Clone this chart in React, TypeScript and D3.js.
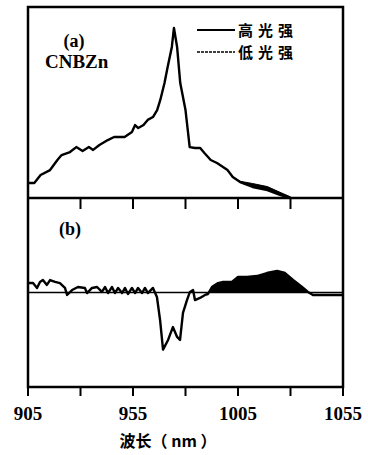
import * as d3 from "d3"

// panel (a): normalised spectra, high / low excitation
const waveA = [905, 908, 911, 915.5, 919, 921, 925, 928, 931, 934, 936, 939, 943, 946, 951, 954.5, 956, 957.5, 960, 962, 964.5, 966.5, 968, 970, 971.5, 973.5, 974.5, 976, 977.5, 980, 982, 984.5, 987, 989, 992, 995, 1000, 1002.5, 1006, 1012, 1019, 1025, 1030]
const highA = [7.9, 7.9, 12.1, 14.7, 20, 22.6, 24.2, 26.8, 24.7, 26.8, 25.3, 27.9, 30.5, 32.1, 32.1, 34.7, 38.4, 36.8, 38.4, 41.1, 42.6, 46.3, 51.6, 60.5, 68.9, 79.5, 89.5, 79.5, 60.5, 46.3, 26.8, 26.3, 26.3, 23.7, 20, 18.4, 14.7, 11.1, 8.4, 5.8, 4.2, 1.6, 0]
const lowA = [7.9, 7.9, 12.1, 14.7, 20, 22.6, 24.2, 26.8, 24.7, 26.8, 25.3, 27.9, 30.5, 32.1, 32.1, 34.7, 38.4, 36.8, 38.4, 41.1, 42.6, 46.3, 51.6, 60.5, 68.9, 79.5, 89.5, 79.5, 60.5, 46.3, 26.8, 26.3, 26.3, 23.7, 20, 18.4, 14.7, 11.1, 8.8, 7.6, 6.0, 3.0, 0.6]

// panel (b): difference spectrum
const waveB = [905, 907.4, 909.3, 910.7, 912.1, 914, 915.5, 917.9, 920.2, 922.6, 923.6, 926, 928.8, 932.1, 933.1, 935.5, 937.9, 940.2, 941.7, 943.1, 945, 946.4, 947.9, 949.8, 951.2, 952.6, 954.5, 956, 957.4, 959.3, 960.7, 962.1, 964.5, 966.4, 967.9, 969.3, 971.7, 974, 976, 977.4, 978.8, 980.7, 982.1, 983.6, 984.5, 986.9, 989.3, 990.7, 992.6, 995.5, 997.9, 1002.1, 1005, 1009.3, 1014, 1018.8, 1023.6, 1027.4, 1031.2, 1035.5, 1038.3, 1040.7, 1055]
const diffB = [5.0, 5.0, 2.4, 5.6, 6.6, 4.0, 6.6, 5.6, 5.0, 2.4, -1.3, 1.3, 2.9, 2.4, -0.3, 2.4, 2.9, 0.3, 2.9, -0.3, 2.9, -0.3, 2.4, -0.3, 2.4, -0.8, 2.4, -0.3, 2.4, -0.3, 2.4, -0.3, 2.4, -2.4, -14.6, -30.2, -25.1, -18.3, -23.5, -25.1, -10.8, -4.0, 0.3, 1.3, -4.0, -2.9, -1.3, -0.8, 2.9, 5.0, 5.6, 5.6, 8.2, 8.2, 8.7, 10.3, 11.4, 10.3, 6.6, 2.9, 0.3, -1.3, -1.3]
const fillFrom = 990

const tickValues = [905, 930, 955, 980, 1005, 1030, 1055]
const tickLabels = [905, 955, 1005, 1055]
const legendLabels = ["高光强", "低光强"]

const serif = "'Liberation Serif', 'DejaVu Serif', serif"
const cjk = "'Noto Sans CJK SC', sans-serif"

export default function App() {
  const left = 28
  const right = 343
  const top = 7
  const mid = 198
  const bottom = 387

  const x = d3.scaleLinear().domain([905, 1055]).range([left, right])
  const yA = d3.scaleLinear().domain([0, 100]).range([mid, top + 1])
  const yB = d3.scaleLinear().domain([-50, 50]).range([bottom, mid])

  const ptsHigh = waveA.map((w, i) => [w, highA[i]] as [number, number])
  const ptsLow = waveA.map((w, i) => [w, lowA[i]] as [number, number])
  const ptsB = waveB.map((w, i) => [w, diffB[i]] as [number, number])

  const lineA = d3.line<[number, number]>().x((d) => x(d[0])).y((d) => yA(d[1]))
  const lineB = d3.line<[number, number]>().x((d) => x(d[0])).y((d) => yB(d[1]))

  const gapA = d3
    .area<number>()
    .x((i) => x(waveA[i]))
    .y0((i) => yA(highA[i]))
    .y1((i) => yA(lowA[i]))
  const gapIdx = waveA.map((_, i) => i).filter((i) => waveA[i] >= 1004)

  const fillB = d3
    .area<[number, number]>()
    .x((d) => x(d[0]))
    .y0(yB(0))
    .y1((d) => yB(Math.max(d[1], 0)))
  const fillPts = ptsB.filter((d) => d[0] >= fillFrom && d[0] <= 1039)

  return (
    <svg width={368} height={455} style={{ position: "absolute", left: 0, top: 0, background: "#fff" }}>
      {/* panel a */}
      <path d={gapA(gapIdx) ?? ""} fill="#000" />
      <path d={lineA(ptsLow) ?? ""} fill="none" stroke="#000" strokeWidth={1} />
      <path d={lineA(ptsHigh) ?? ""} fill="none" stroke="#000" strokeWidth={2.4} strokeLinejoin="round" />

      {/* panel b */}
      <path d={fillB(fillPts) ?? ""} fill="#000" />
      <line x1={left} x2={right} y1={yB(0)} y2={yB(0)} stroke="#000" strokeWidth={1.5} />
      <path d={lineB(ptsB) ?? ""} fill="none" stroke="#000" strokeWidth={2.4} strokeLinejoin="round" />

      {/* frame */}
      <rect x={left} y={top} width={right - left} height={bottom - top} fill="none" stroke="#000" strokeWidth={2.5} />
      <line x1={left} x2={right} y1={mid} y2={mid} stroke="#000" strokeWidth={2.5} />

      {tickValues.map((t) => (
        <g key={t}>
          <line x1={x(t)} x2={x(t)} y1={mid} y2={mid + 11} stroke="#000" strokeWidth={2} />
          <line x1={x(t)} x2={x(t)} y1={bottom} y2={bottom + 9} stroke="#000" strokeWidth={2} />
        </g>
      ))}
      {tickLabels.map((t) => (
        <text key={t} x={x(t)} y={420} textAnchor="middle" fontFamily={serif} fontSize={19} fontWeight="bold">
          {t}
        </text>
      ))}
      <text x={168} y={447} textAnchor="middle" fontFamily={cjk} fontSize={16} fontWeight="bold">
        波长（ nm ）
      </text>

      <text x={74} y={47} textAnchor="middle" fontFamily={serif} fontSize={18} fontWeight="bold">(a)</text>
      <text x={45} y={68} fontFamily={serif} fontSize={19} fontWeight="bold">CNBZn</text>
      <text x={70} y={235} textAnchor="middle" fontFamily={serif} fontSize={18} fontWeight="bold">(b)</text>

      {/* legend */}
      <line x1={197} x2={235} y1={30} y2={30} stroke="#000" strokeWidth={2.2} />
      <line x1={197} x2={235} y1={52} y2={52} stroke="#000" strokeWidth={1.3} strokeDasharray="3,1" />
      {legendLabels.map((l, i) => (
        <text key={l} x={238} y={36 + i * 22} fontFamily={cjk} fontSize={15} fontWeight="bold" letterSpacing={5}>
          {l}
        </text>
      ))}
    </svg>
  )
}
